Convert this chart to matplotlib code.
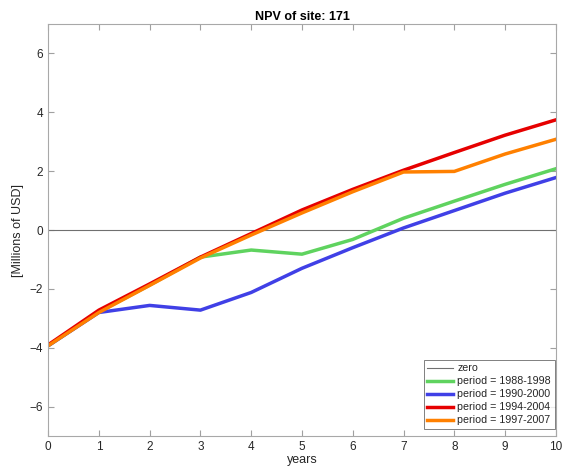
import matplotlib
matplotlib.use('Agg')
import matplotlib.pyplot as plt

plt.rcParams['font.family'] = ['Liberation Sans', 'DejaVu Sans']

years = [0, 1, 2, 3, 4, 5, 6, 7, 8, 9, 10]

npv_1988 = [-3.93, -2.78, -1.87, -0.92, -0.68, -0.82, -0.32, 0.40, 0.98, 1.55, 2.08]
npv_1990 = [-3.93, -2.80, -2.56, -2.72, -2.12, -1.30, -0.60, 0.07, 0.66, 1.25, 1.78]
npv_1994 = [-3.90, -2.72, -1.83, -0.92, -0.12, 0.68, 1.38, 2.03, 2.63, 3.22, 3.74]
npv_1997 = [-3.93, -2.80, -1.88, -0.95, -0.17, 0.58, 1.30, 1.97, 1.99, 2.58, 3.08]

labels = ['period = 1988-1998', 'period = 1990-2000',
          'period = 1994-2004', 'period = 1997-2007']
colors = ['#5fd35f', '#4040e6', '#e60000', '#ff8000']

fig = plt.figure(figsize=(5.66, 4.68), dpi=100)
ax = fig.add_axes([0.085, 0.068, 0.897, 0.881])

ax.plot([0, 10], [0, 0], color='#707070', linewidth=0.8, label='zero')
for vals, lab, col in zip([npv_1988, npv_1990, npv_1994, npv_1997], labels, colors):
    ax.plot(years, vals, color=col, linewidth=2.5, label=lab)

ax.set_xlim(0, 10)
ax.set_ylim(-7, 7)
ax.set_xticks(range(0, 11))
ax.set_yticks([-6, -4, -2, 0, 2, 4, 6])
ax.tick_params(direction='in', top=True, right=True, labelsize=8.5,
               color='#a0a0a0', labelcolor='#262626', length=4)
for s in ax.spines.values():
    s.set_color('#a8a8a8')
    s.set_linewidth(0.8)

ax.set_xlabel('years', fontsize=9, labelpad=1, color='#262626')
ax.set_ylabel('[Millions of USD]', fontsize=9, color='#262626')
ax.set_title('NPV of site: 171', fontsize=9, fontweight='bold', pad=3)

leg = ax.legend(loc='lower right', bbox_to_anchor=(0.998, 0.017), borderaxespad=0,
                fontsize=7.7, frameon=True, fancybox=False,
                edgecolor='#606060', handlelength=2.4,
                labelspacing=0.28, borderpad=0.35, handletextpad=0.4)
leg.get_frame().set_linewidth(0.7)
for t in leg.get_texts():
    t.set_color('#262626')

fig.savefig('out.png', dpi=100)
